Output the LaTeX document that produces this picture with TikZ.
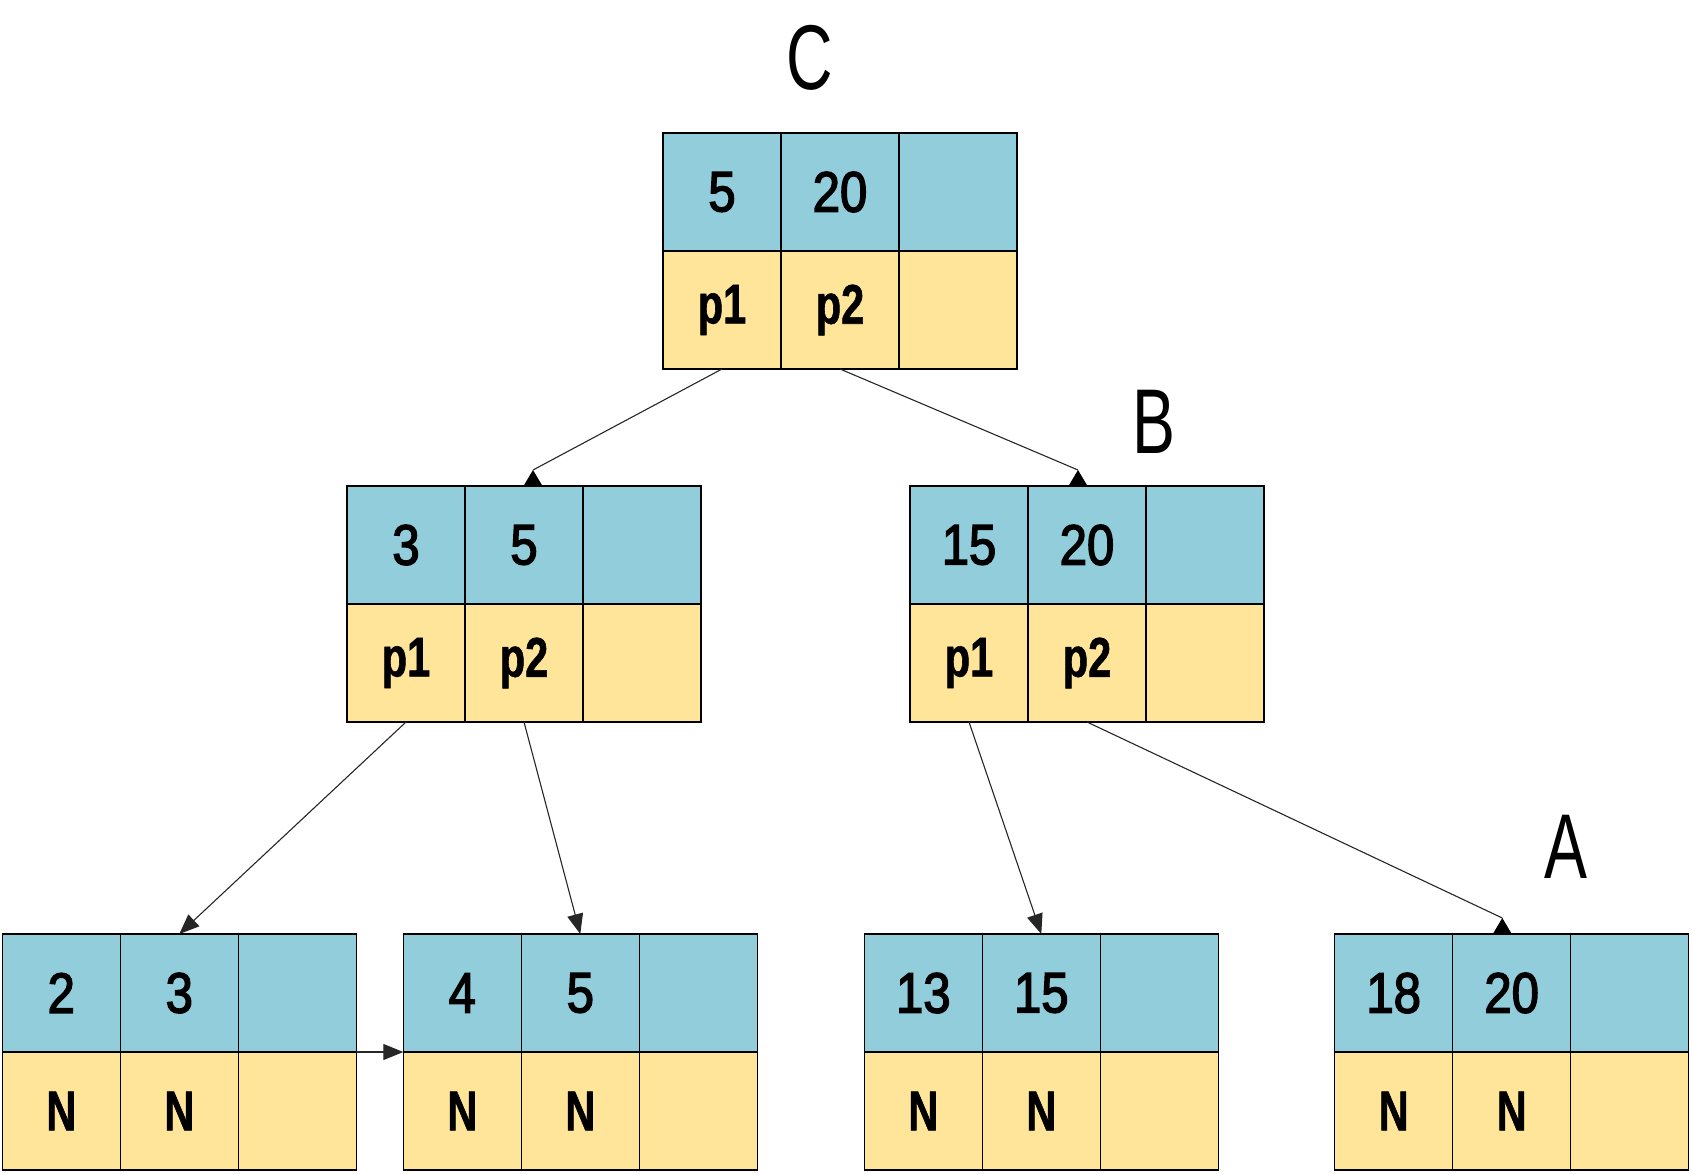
\documentclass[tikz,border=0pt]{standalone}
\usepackage{fontspec}
\usetikzlibrary{arrows.meta,calc}
\newfontfamily\lblfont[FakeStretch=0.7]{Liberation Sans}
\newfontfamily\keyfont[FakeStretch=0.86,FakeBold=2.5]{Liberation Sans}
\newfontfamily\ptrfont[FakeStretch=0.74,FakeBold=1]{Liberation Sans Bold}
\definecolor{keyblue}{HTML}{92CDDC}
\definecolor{ptryellow}{HTML}{FFE599}
\definecolor{linkgray}{HTML}{262626}
\tikzset{
  cell/.style={draw=black, line width=1.3pt, minimum width=118pt, minimum height=118pt,
    inner sep=0pt, outer sep=0pt},
  keycell/.style={cell, fill=keyblue, font=\keyfont\fontsize{57}{57}\selectfont},
  ptrcell/.style={cell, fill=ptryellow, font=\ptrfont\fontsize{56}{56}\selectfont},
  lbl/.style={inner sep=0pt, font=\lblfont\fontsize{92}{92}\selectfont},
  link/.style={draw=linkgray, line width=1.1pt},
  down/.style={link, -{Triangle[length=20pt,width=16pt]}},
  headfill/.style={fill=black}
}
% one B+ tree page: a row of keys over a row of pointers
\newcommand\bpage[7]{%
  \node[keycell, anchor=north west] (#1-k1) at (#2,#3) {#4};
  \node[keycell, anchor=west] (#1-k2) at (#1-k1.east) {#5};
  \node[keycell, anchor=west] (#1-k3) at (#1-k2.east) {};
  \node[ptrcell, anchor=north] (#1-q1) at (#1-k1.south) {#6};
  \node[ptrcell, anchor=north] (#1-q2) at (#1-k2.south) {#7};
  \node[ptrcell, anchor=north] (#1-q3) at (#1-k3.south) {};
}
% upright head standing on the top edge of a page, apex at (#1)
\newcommand\uphead[1]{%
  \fill[headfill] (#1) -- ++(-9.5pt,-16pt) -- ++(19pt,0pt) -- cycle;
}
\begin{document}
\begin{tikzpicture}[x=1pt,y=-1pt]
  \useasboundingbox (0,0) rectangle (1692,1173);

  % pages
  \bpage{C}{663}{133}{5}{20}{p1}{p2}
  \bpage{L}{347}{486}{3}{5}{p1}{p2}
  \bpage{B}{910}{486}{15}{20}{p1}{p2}
  \bpage{LL}{2.3}{934}{2}{3}{N}{N}
  \bpage{LM}{403.3}{934}{4}{5}{N}{N}
  \bpage{RM}{864.3}{934}{13}{15}{N}{N}
  \bpage{A}{1334.7}{934}{18}{20}{N}{N}

  % page labels
  \node[lbl] (lC) at (810,58) {C};
  \node[lbl] (lB) at (1154,422) {B};
  \node[lbl] (lA) at (1566,847) {A};

  % child pointers whose heads stand upright on the child's top edge
  \coordinate (hL) at ([xshift=9pt,yshift=16pt]L-k2.north);
  \coordinate (hB) at ([xshift=-9pt,yshift=16pt]B-k2.north);
  \coordinate (hA) at ([xshift=-9.4pt,yshift=16pt]A-k2.north);
  \draw[link] (C-q1.south) -- (hL);
  \draw[link] (C-q2.south) -- (hB);
  \draw[link] (B-q2.south) -- (hA);
  \uphead{hL}
  \uphead{hB}
  \uphead{hA}

  % child pointers with ordinary heads
  \draw[down] (L-q1.south) -- (LL-k2.north);
  \draw[down] (L-q2.south) -- (LM-k2.north);
  \draw[down] (B-q1.south) -- (RM-k2.north);

  % leaf chain
  \draw[down] (LL-k3.south east) -- (LM-k1.south west);
\end{tikzpicture}
\end{document}
